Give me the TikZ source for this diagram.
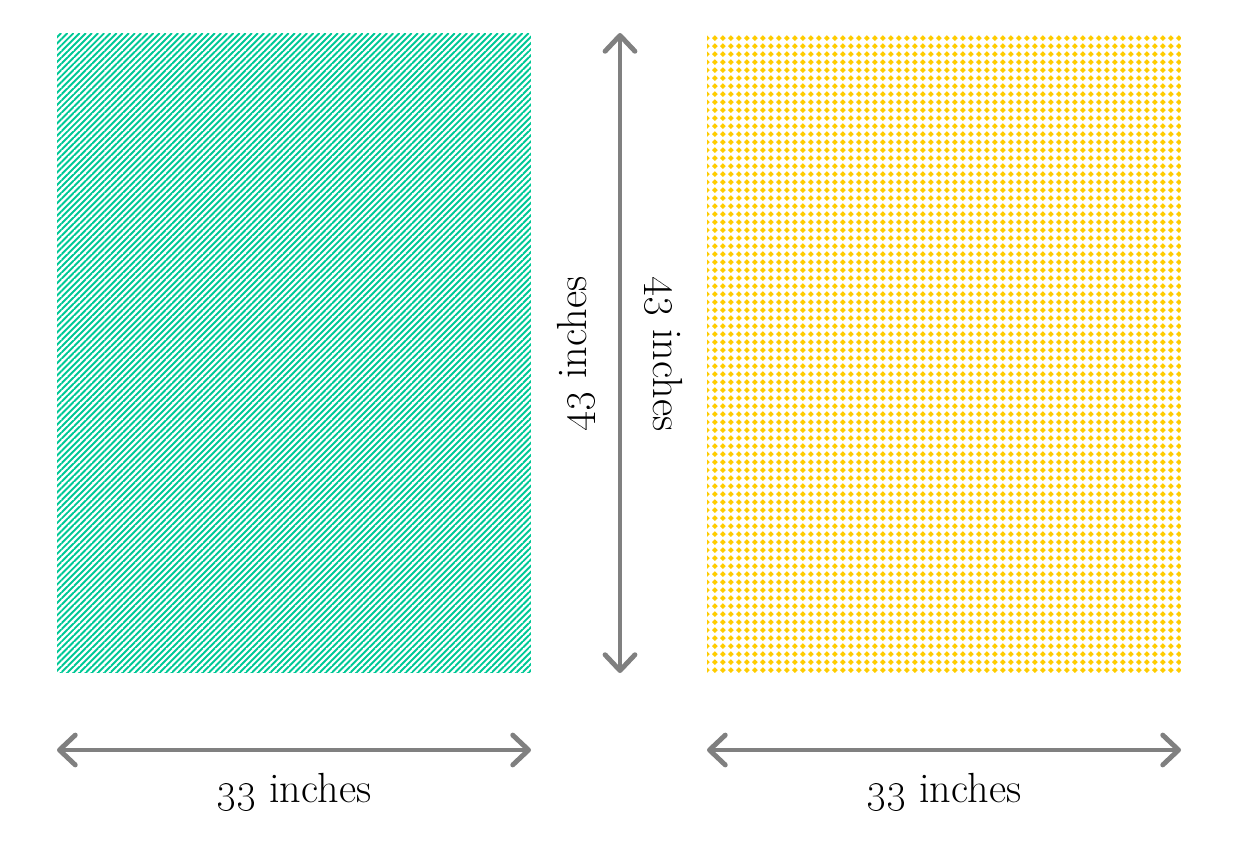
\documentclass[tikz,border=0pt]{standalone}
\usepackage{tikz}
\usetikzlibrary{arrows.meta,patterns.meta}

\definecolor{stripegreen}{RGB}{0,200,150}
\definecolor{dotyellow}{RGB}{255,204,0}
\definecolor{dimgray}{RGB}{128,128,128}

\tikzdeclarepattern{
  name=greenstripes,
  type=uncolored,
  bottom left={(-.1pt,-.1pt)},
  top right={(3.6pt,3.6pt)},
  tile size={(3.5pt,3.5pt)},
  code={
    \draw[line width=1.1pt] (-1pt,-1pt) -- (4.5pt,4.5pt);
  }
}
\tikzdeclarepattern{
  name=yellowdiamonds,
  type=uncolored,
  bottom left={(0pt,0pt)},
  top right={(4.5pt,4.5pt)},
  tile size={(4.5pt,4.5pt)},
  code={
    \fill (2.25pt,0.6pt) -- (3.9pt,2.25pt) -- (2.25pt,3.9pt) -- (0.6pt,2.25pt) -- cycle;
  }
}

\tikzset{
  sheet/.style={inner sep=0pt, minimum width=9.48cm, minimum height=12.8cm},
  dimline/.style={draw=dimgray, line width=2.8pt,
    {Straight Barb[length=9pt,width=17pt,round]}-{Straight Barb[length=9pt,width=17pt,round]}},
  dimlabel/.style={font=\fontsize{24}{28}\selectfont, inner sep=2pt}
}

\begin{document}
\begin{tikzpicture}[x=0.02cm, y=-0.02cm]
    \useasboundingbox (0,0) rectangle (1238,863);
    % the two sheets
    \node[sheet, pattern={greenstripes}, pattern color=stripegreen] (lsheet) at (294,353) {};
    \node[sheet, pattern={yellowdiamonds}, pattern color=dotyellow] (rsheet) at (944,353) {};
    % width arrows
    \coordinate (lw1) at (57,750);
    \coordinate (lw2) at (531,750);
    \coordinate (rw1) at (707,750);
    \coordinate (rw2) at (1181,750);
    \draw[dimline] (lw1) -- (lw2);
    \draw[dimline] (rw1) -- (rw2);
    \node[dimlabel] (lwlabel) at (294,792) {\oldstylenums{33} inches};
    \node[dimlabel] (rwlabel) at (944,792) {\oldstylenums{33} inches};
    % height arrow
    \coordinate (ht) at (620,33);
    \coordinate (hb) at (620,673);
    \draw[dimline] (ht) -- (hb);
    \node[dimlabel, rotate=90] (lhlabel) at (576,354) {\oldstylenums{43} inches};
    \node[dimlabel, rotate=-90] (rhlabel) at (664,354) {\oldstylenums{43} inches};
\end{tikzpicture}
\end{document}
